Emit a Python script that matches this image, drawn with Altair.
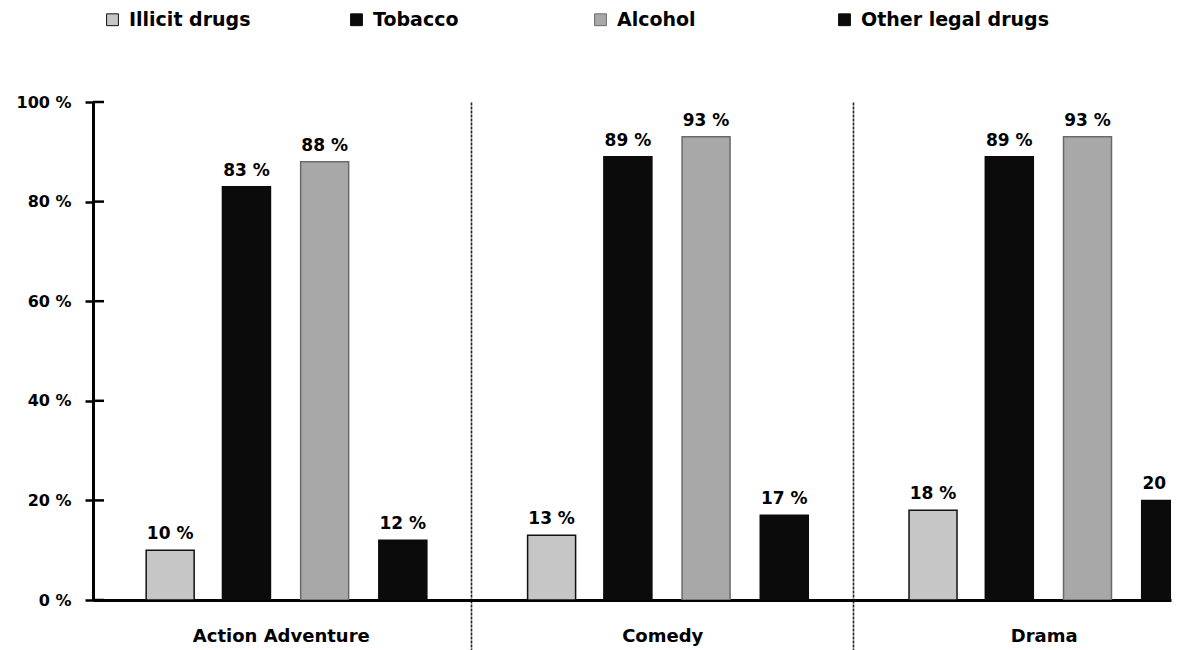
import json

import altair as alt
import pandas as pd

# Share of films in each genre that depict the substance
genres = ["Action Adventure", "Comedy", "Drama"]
substances = ["Illicit drugs", "Tobacco", "Alcohol", "Other legal drugs"]
illicit = [10, 13, 18]
tobacco = [83, 89, 89]
alcohol = [88, 93, 93]
other_legal = [12, 17, 20]
y_ticks = [0, 20, 40, 60, 80, 100]

# Styling
fills = ["#c6c6c6", "#0b0b0b", "#a8a8a8", "#0b0b0b"]
outlines = ["#111111", "#0b0b0b", "#6a6a6a", "#0b0b0b"]
slot = [0.21, 0.41, 0.615, 0.82]  # bar centres inside one genre band (band width = 1)
FONT = "DejaVu Sans"

rows = []
for s_i, (name, vals) in enumerate(zip(substances, [illicit, tobacco, alcohol, other_legal])):
    for g_i, v in enumerate(vals):
        rows.append({
            "genre": genres[g_i],
            "substance": name,
            "value": v,
            "pos": g_i + slot[s_i],
            "label": f"{v} %",
        })
df = pd.DataFrame(rows)
ticks_df = pd.DataFrame({"value": y_ticks})

x_scale = alt.Scale(domain=[0.0208, 2.8208], nice=False, zero=False)
y_scale = alt.Scale(domain=[0, 100], nice=False)

y_enc = alt.Y(
    "value:Q",
    scale=y_scale,
    axis=alt.Axis(
        values=y_ticks,
        labelExpr="datum.value + ' %'",
        title=None,
        grid=False,
        domainColor="#000",
        domainWidth=3,
        tickColor="#000",
        tickWidth=2.5,
        tickSize=8,
        labelPadding=14,
        labelFont=FONT,
        labelFontSize=16,
        labelFontWeight="bold",
        labelColor="#000",
    ),
)

# Bars, with the genre dividers drawn as grid lines + long ticks
bars = alt.Chart(df).mark_bar(size=48, strokeWidth=1.5, clip=True).encode(
    x=alt.X(
        "pos:Q",
        scale=x_scale,
        axis=alt.Axis(
            orient="bottom",
            values=[1, 2],
            labels=False,
            title=None,
            grid=True,
            gridColor="#222222",
            gridWidth=1.6,
            gridDash=[3, 1],
            ticks=True,
            tickSize=50,
            tickColor="#222222",
            tickWidth=1.6,
            tickDash=[3, 1],
            domain=True,
            domainColor="#000",
            domainWidth=3,
        ),
    ),
    y=y_enc,
    color=alt.Color(
        "substance:N",
        scale=alt.Scale(domain=substances, range=fills),
        legend=alt.Legend(
            orient="none",
            legendX=10,
            legendY=-92,
            direction="horizontal",
            columns=4,
            gridAlign="all",
            columnPadding=30,
            title=None,
            symbolType="square",
            symbolSize=140,
            symbolStrokeColor="#000",
            symbolStrokeWidth=1,
            labelFont=FONT,
            labelFontSize=19,
            labelFontWeight="bold",
            labelColor="#000",
            labelOffset=7,
            labelLimit=0,
        ),
    ),
    stroke=alt.Stroke(
        "substance:N",
        scale=alt.Scale(domain=substances, range=outlines),
        legend=None,
    ),
)

# Value labels above the bars; this layer also carries the genre axis
labels = alt.Chart(df).mark_text(
    font=FONT, fontSize=17, fontWeight="bold", color="#000",
    baseline="bottom", dy=-7, clip=True,
).encode(
    x=alt.X(
        "pos:Q",
        scale=x_scale,
        axis=alt.Axis(
            orient="bottom",
            values=[0.5, 1.5, 2.5],
            labelExpr=f"{json.dumps(genres)}[floor(datum.value)]",
            title=None,
            grid=False,
            ticks=False,
            domain=False,
            labelPadding=27,
            labelFont=FONT,
            labelFontSize=18,
            labelFontWeight="bold",
            labelColor="#000",
        ),
    ),
    y=y_enc,
    text="label:N",
)

# Inner half of the crossing y-axis ticks
inner_ticks = alt.Chart(ticks_df).mark_rule(color="#000", strokeWidth=2.5).encode(
    y=y_enc,
    x=alt.value(0),
    x2=alt.value(11),
)

chart = (
    alt.layer(bars, labels, inner_ticks)
    .resolve_axis(x="independent")
    .properties(
        width=1078,
        height=498,
        autosize=alt.AutoSizeParams(type="none"),
        padding={"left": 93, "top": 102, "right": 12, "bottom": 50},
        background="white",
    )
    .configure_view(stroke=None)
)

chart.save("out.html", embed_options={"renderer": "svg", "actions": False})
